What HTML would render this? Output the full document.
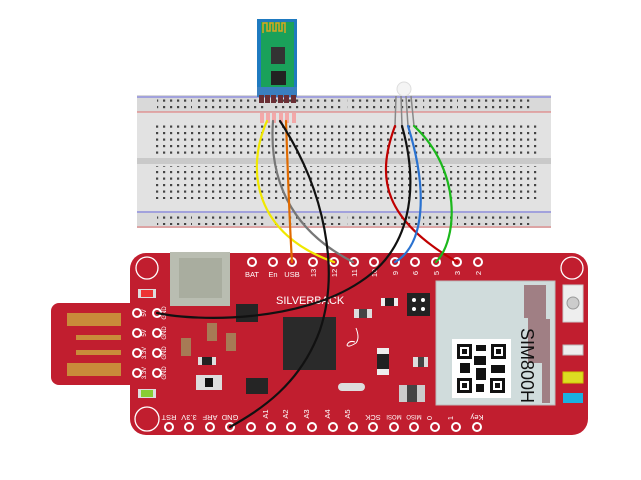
<!DOCTYPE html>
<html><head><meta charset="utf-8"><style>
html,body{margin:0;padding:0;background:#fff;width:641px;height:480px;overflow:hidden}
svg{display:block}
text{font-family:"Liberation Sans",sans-serif}
</style></head><body>
<svg width="641" height="480" viewBox="0 0 641 480" xmlns="http://www.w3.org/2000/svg">
<defs>
<pattern id="holes" x="0" y="0" width="7" height="6.5" patternUnits="userSpaceOnUse">
<rect x="2" y="2" width="2.2" height="2.2" fill="#444"/>
</pattern>
</defs>
<!-- breadboard -->
<rect x="137" y="95" width="414" height="133" fill="#d9d9d9"/>
<rect x="137" y="112" width="414" height="46" fill="#e2e2e2"/>
<rect x="137" y="164" width="414" height="47" fill="#e2e2e2"/>
<rect x="137" y="158" width="414" height="6" fill="#c9c9c9"/>
<line x1="137" y1="97" x2="551" y2="97" stroke="#6a6ae0" stroke-width="1"/>
<line x1="137" y1="112" x2="551" y2="112" stroke="#e07070" stroke-width="1"/>
<line x1="137" y1="212" x2="551" y2="212" stroke="#6a6ae0" stroke-width="1"/>
<line x1="137" y1="227" x2="551" y2="227" stroke="#e07070" stroke-width="1"/>
<rect x="155" y="124" width="385" height="32" fill="url(#holes)"/>
<rect x="155" y="166" width="385" height="33" fill="url(#holes)"/>
<g fill="url(#holes)">
<rect x="157" y="99" width="35" height="12"/><rect x="195" y="99" width="35" height="12"/><rect x="233" y="99" width="35" height="12"/><rect x="271" y="99" width="35" height="12"/><rect x="309" y="99" width="35" height="12"/><rect x="347" y="99" width="35" height="12"/><rect x="385" y="99" width="35" height="12"/><rect x="423" y="99" width="35" height="12"/><rect x="461" y="99" width="35" height="12"/><rect x="499" y="99" width="35" height="12"/>
<rect x="157" y="213" width="35" height="12"/><rect x="195" y="213" width="35" height="12"/><rect x="233" y="213" width="35" height="12"/><rect x="271" y="213" width="35" height="12"/><rect x="309" y="213" width="35" height="12"/><rect x="347" y="213" width="35" height="12"/><rect x="385" y="213" width="35" height="12"/><rect x="423" y="213" width="35" height="12"/><rect x="461" y="213" width="35" height="12"/><rect x="499" y="213" width="35" height="12"/>
</g>
<!-- HC-05 -->
<rect x="257" y="19" width="40" height="78" fill="#1f7ac0"/>
<rect x="261" y="22" width="33" height="72" fill="#1aa15a"/>
<path d="M263,33 V23 h4 v8 h3 v-8 h3 v8 h3 v-8 h3 v8 h3 v-8 h3 v10" fill="none" stroke="#d9a520" stroke-width="1.5"/>
<rect x="271" y="47" width="14" height="17" fill="#333"/>
<rect x="271" y="71" width="15" height="14" fill="#222"/>
<rect x="257" y="87" width="40" height="10" fill="#3a7fbf"/>
<g fill="#6a2f35"><rect x="259" y="95" width="5" height="8"/><rect x="265" y="95" width="5" height="8"/><rect x="271" y="95" width="5" height="8"/><rect x="278" y="95" width="5" height="8"/><rect x="284" y="95" width="5" height="8"/><rect x="291" y="95" width="5" height="8"/></g>
<g fill="#f3a8a8"><rect x="260" y="113" width="4" height="10"/><rect x="266" y="113" width="4" height="10"/><rect x="272" y="113" width="4" height="10"/><rect x="279" y="113" width="4" height="10"/><rect x="285" y="113" width="4" height="10"/><rect x="292" y="113" width="4" height="10"/></g>
<!-- LED -->
<circle cx="404" cy="89" r="7" fill="#f4f4f4" stroke="#ddd"/>
<g stroke="#888" stroke-width="1.5"><line x1="396" y1="96" x2="395" y2="126"/><line x1="401" y1="96" x2="402" y2="126"/><line x1="406" y1="96" x2="408" y2="126"/><line x1="411" y1="96" x2="414" y2="126"/></g>
<!-- board -->
<rect x="51" y="303" width="90" height="82" rx="8" fill="#c11e2f"/>
<g fill="#c98b3a"><rect x="67" y="313" width="54" height="13"/><rect x="76" y="335" width="45" height="5"/><rect x="76" y="350" width="45" height="5"/><rect x="67" y="363" width="54" height="13"/></g>
<rect x="130" y="253" width="458" height="182" rx="16" fill="#c11e2f"/>
<circle cx="147" cy="268" r="11" fill="none" stroke="#fff" stroke-width="1.3"/>
<circle cx="147" cy="419" r="12" fill="none" stroke="#fff" stroke-width="1.3"/>
<circle cx="572" cy="268" r="11" fill="none" stroke="#fff" stroke-width="1.3"/>
<rect x="170" y="252" width="60" height="54" fill="#b9bdb1"/>
<rect x="179" y="258" width="43" height="40" fill="#a9ad9f"/>
<rect x="138" y="289" width="18" height="9" fill="#ddd"/><rect x="141" y="290" width="12" height="7" fill="#e33"/>
<rect x="138" y="389" width="18" height="9" fill="#ddd"/><rect x="141" y="390" width="12" height="7" fill="#8c3"/>
<rect x="236" y="304" width="22" height="18" fill="#252525"/>
<rect x="207" y="323" width="10" height="18" fill="#a77a55"/>
<rect x="181" y="338" width="10" height="18" fill="#a77a55"/>
<rect x="226" y="333" width="10" height="18" fill="#a77a55"/>
<rect x="198" y="357" width="18" height="8" fill="#ddd"/><rect x="202" y="357" width="10" height="8" fill="#222"/>
<rect x="196" y="375" width="26" height="15" fill="#ddd"/><rect x="205" y="378" width="8" height="9" fill="#111"/>
<rect x="246" y="378" width="22" height="16" fill="#252525"/>
<rect x="283" y="317" width="53" height="53" fill="#2a2a2a"/>
<rect x="381" y="298" width="17" height="8" fill="#eee"/><rect x="385" y="298" width="9" height="8" fill="#222"/>
<rect x="407" y="293" width="23" height="23" fill="#222"/>
<g fill="#fff"><circle cx="414" cy="300" r="2"/><circle cx="423" cy="300" r="2"/><circle cx="414" cy="309" r="2"/><circle cx="423" cy="309" r="2"/></g>
<rect x="354" y="309" width="18" height="9" fill="#ddd"/><rect x="359" y="309" width="8" height="9" fill="#444"/>
<rect x="377" y="348" width="12" height="27" fill="#eee"/><rect x="377" y="354" width="12" height="15" fill="#222"/>
<rect x="413" y="357" width="15" height="10" fill="#ddd"/><rect x="418" y="357" width="6" height="10" fill="#444"/>
<rect x="338" y="383" width="27" height="8" rx="4" fill="#ddd"/>
<rect x="399" y="385" width="26" height="17" fill="#ccc"/><rect x="407" y="385" width="10" height="17" fill="#444"/>
<rect x="436" y="281" width="119" height="124" fill="#d0dcdc" stroke="#bbb"/>
<path d="M524,285 h22 v34 h4 v84 h-8 v-40 h-14 v-45 h-4 z" fill="#a07f84"/>
<rect x="452" y="339" width="59" height="59" fill="#fff"/>
<g fill="#111">
<rect x="457" y="344" width="15" height="15"/><rect x="491" y="344" width="15" height="15"/><rect x="457" y="378" width="15" height="15"/>
<rect x="476" y="345" width="10" height="6"/><rect x="474" y="356" width="12" height="9"/><rect x="460" y="363" width="10" height="10"/><rect x="476" y="368" width="10" height="12"/><rect x="491" y="365" width="14" height="8"/><rect x="476" y="384" width="8" height="8"/><rect x="490" y="378" width="15" height="15"/>
</g>
<g fill="#fff"><rect x="460" y="347" width="9" height="9"/><rect x="494" y="347" width="9" height="9"/><rect x="460" y="381" width="9" height="9"/><rect x="493" y="381" width="9" height="9"/></g>
<g fill="#111"><rect x="462" y="349" width="5" height="5"/><rect x="496" y="349" width="5" height="5"/><rect x="462" y="383" width="5" height="5"/><rect x="495" y="383" width="5" height="5"/></g>
<text transform="translate(521,328) rotate(90)" font-size="18" fill="#111">SIM800H</text>
<rect x="563" y="285" width="20" height="37" fill="#eee" stroke="#ccc"/><circle cx="573" cy="303" r="6" fill="#ccc" stroke="#999"/>
<rect x="563" y="345" width="20" height="10" fill="#eee" stroke="#bbb"/>
<rect x="563" y="372" width="20" height="11" fill="#dd2" stroke="#cc0"/>
<rect x="563" y="393" width="20" height="10" fill="#1ab0e0"/>
<text x="276" y="304" font-size="11" fill="#fff">SILVERBACK</text>
<path d="M356,328 q4,10 0,15 q-8,5 -9,2 q2,-5 8,-3" fill="none" stroke="#fff" stroke-width="1"/>
<!-- pins -->
<g fill="#fff" stroke="#fff"><g fill="none" stroke-width="2">
<circle cx="252" cy="262" r="4"/><circle cx="273" cy="262" r="4"/><circle cx="292" cy="262" r="4"/><circle cx="313" cy="262" r="4"/><circle cx="334" cy="262" r="4"/><circle cx="354" cy="262" r="4"/><circle cx="374" cy="262" r="4"/><circle cx="395" cy="262" r="4"/><circle cx="415" cy="262" r="4"/><circle cx="436" cy="262" r="4"/><circle cx="457" cy="262" r="4"/><circle cx="478" cy="262" r="4"/>
<circle cx="169" cy="427" r="4"/><circle cx="189" cy="427" r="4"/><circle cx="210" cy="427" r="4"/><circle cx="230" cy="427" r="4"/><circle cx="251" cy="427" r="4"/><circle cx="271" cy="427" r="4"/><circle cx="291" cy="427" r="4"/><circle cx="312" cy="427" r="4"/><circle cx="333" cy="427" r="4"/><circle cx="353" cy="427" r="4"/><circle cx="373" cy="427" r="4"/><circle cx="394" cy="427" r="4"/><circle cx="414" cy="427" r="4"/><circle cx="435" cy="427" r="4"/><circle cx="456" cy="427" r="4"/><circle cx="477" cy="427" r="4"/>
<circle cx="137" cy="313" r="4"/><circle cx="157" cy="313" r="4"/><circle cx="137" cy="333" r="4"/><circle cx="157" cy="333" r="4"/><circle cx="137" cy="353" r="4"/><circle cx="157" cy="353" r="4"/><circle cx="137" cy="373" r="4"/><circle cx="157" cy="373" r="4"/>
</g></g>
<g font-size="7.5" fill="#fff" text-anchor="middle">
<text x="252" y="277">BAT</text><text x="273" y="277">En</text><text x="292" y="277">USB</text>
<text transform="translate(316,273) rotate(-90)">13</text><text transform="translate(337,273) rotate(-90)">12</text><text transform="translate(357,273) rotate(-90)">11</text><text transform="translate(377,273) rotate(-90)">10</text><text transform="translate(398,273) rotate(-90)">9</text><text transform="translate(418,273) rotate(-90)">6</text><text transform="translate(439,273) rotate(-90)">5</text><text transform="translate(460,273) rotate(-90)">3</text><text transform="translate(481,273) rotate(-90)">2</text>
<text transform="translate(169,415) rotate(180)">RST</text><text transform="translate(189,415) rotate(180)">3.3V</text><text transform="translate(210,415) rotate(180)">ARF</text><text transform="translate(230,415) rotate(180)">GND</text>
<text transform="translate(268,414) rotate(-90)">A1</text><text transform="translate(288,414) rotate(-90)">A2</text><text transform="translate(309,414) rotate(-90)">A3</text><text transform="translate(330,414) rotate(-90)">A4</text><text transform="translate(350,414) rotate(-90)">A5</text>
<text transform="translate(373,415) rotate(180)">SCK</text><text transform="translate(394,415) rotate(180)" font-size="6">MOSI</text><text transform="translate(414,415) rotate(180)" font-size="6">MISO</text>
<text transform="translate(432,418) rotate(-90)">0</text><text transform="translate(453,418) rotate(-90)">1</text><text transform="translate(477,415) rotate(180)">Key</text>
</g>
<g font-size="6" fill="#fff" text-anchor="middle">
<text transform="translate(146,313) rotate(-90)">5V</text><text transform="translate(166,313) rotate(-90)">GND</text>
<text transform="translate(146,333) rotate(-90)">5V</text><text transform="translate(166,333) rotate(-90)">GND</text>
<text transform="translate(146,353) rotate(-90)">3.3V</text><text transform="translate(166,353) rotate(-90)">GND</text>
<text transform="translate(146,373) rotate(-90)">3.3V</text><text transform="translate(166,373) rotate(-90)">GND</text>
</g>
<!-- wires -->
<g fill="none" stroke-width="2.2" stroke-linecap="round">
<path d="M267,121 C245,170 255,235 334,262" stroke="#f0e800"/>
<path d="M273,121 C268,190 300,235 353,262" stroke="#777"/>
<path d="M286,121 C288,180 290,230 292,262" stroke="#e06a00"/>
<path d="M280,121 C325,190 340,270 320,330 C300,385 260,410 230,427" stroke="#111"/>
<path d="M395,126 C375,180 385,220 457,262" stroke="#c00000"/>
<path d="M402,126 C420,190 410,250 360,282 C300,322 200,322 157,313" stroke="#111"/>
<path d="M408,126 C428,190 425,245 395,262" stroke="#2a72d0"/>
<path d="M414,126 C462,170 458,240 436,262" stroke="#1cb81c"/>
</g>
</svg>
</body></html>
